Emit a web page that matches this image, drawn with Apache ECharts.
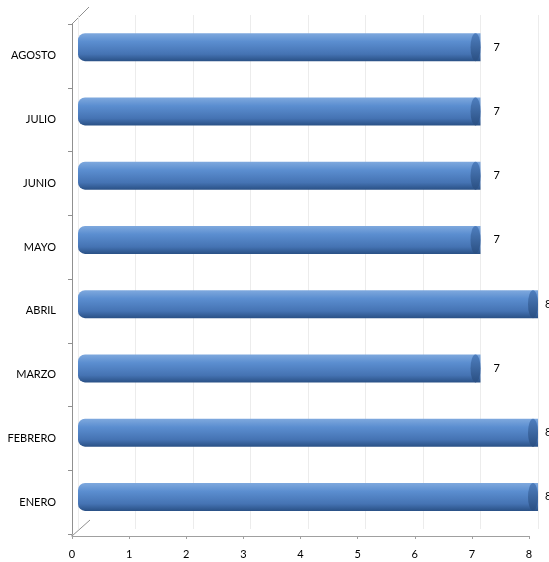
<!DOCTYPE html>
<html>
<head>
<meta charset="utf-8">
<script src="https://cdn.jsdelivr.net/npm/echarts@6/dist/echarts.min.js"></script>
<style>
  html, body { margin: 0; padding: 0; background: #fff; }
  #chart { width: 549px; height: 562px; }
</style>
</head>
<body>
<div id="chart"></div>
<script>
// datos
var meses = ["ENERO", "FEBRERO", "MARZO", "ABRIL", "MAYO", "JUNIO", "JULIO", "AGOSTO"];
var valores = [8, 8, 7, 8, 7, 7, 7, 7];
var ticksX = [0, 1, 2, 3, 4, 5, 6, 7, 8];

var font = "Lato, Liberation Sans, sans-serif";
var myChart = echarts.init(document.getElementById("chart"));

var cuerpo = new echarts.graphic.LinearGradient(0, 0, 0, 1, [
  { offset: 0, color: "#7fa9de" },
  { offset: 0.3, color: "#5b8ed0" },
  { offset: 0.75, color: "#4573b3" },
  { offset: 1, color: "#2a5186" }
]);
var tapa = new echarts.graphic.LinearGradient(0, 0, 0, 1, [
  { offset: 0, color: "#4f7fbf" },
  { offset: 1, color: "#2a4f82" }
]);

// las barras que llegan al borde dejan su etiqueta medio cortada
var datosBarras = valores.map(function (v) {
  return v >= 8 ? { value: v, label: { distance: 7 } } : v;
});

var option = {
  animation: false,
  grid: [
    // plano frontal: ejes y etiquetas
    { left: 72, right: 20, top: 24, bottom: 28 },
    // plano de las barras (desplazado por la profundidad 3D)
    { left: 78, right: 11, top: 15, bottom: 33 }
  ],
  xAxis: [
    {
      gridIndex: 0,
      type: "value",
      min: 0,
      max: 8,
      interval: 1,
      offset: 2,
      axisLine: { show: true, lineStyle: { color: "#a0a0a0" } },
      axisTick: { show: true, length: 3, lineStyle: { color: "#a0a0a0" } },
      splitLine: { show: false },
      axisLabel: {
        color: "#000",
        fontSize: 11,
        fontFamily: font,
        margin: 13,
        formatter: function (v) { return ticksX.indexOf(v) >= 0 ? String(v) : ""; }
      }
    },
    {
      gridIndex: 1,
      type: "value",
      min: 0,
      max: 8,
      interval: 1,
      axisLine: { show: false },
      axisTick: { show: false },
      axisLabel: { show: false },
      splitLine: { show: true, lineStyle: { color: "#ececec", width: 1 } }
    }
  ],
  yAxis: [
    {
      gridIndex: 0,
      type: "category",
      data: meses,
      axisLine: { show: true, lineStyle: { color: "#909090" } },
      axisTick: { show: true, length: 4, lineStyle: { color: "#909090" } },
      axisLabel: { color: "#000", fontSize: 11, fontFamily: font, margin: 16 }
    },
    {
      gridIndex: 1,
      type: "category",
      data: meses,
      axisLine: { show: false },
      axisTick: { show: false },
      axisLabel: { show: false }
    }
  ],
  graphic: [
    {
      type: "polyline",
      shape: { points: [[72, 534], [72, 536], [90, 520]] },
      style: { stroke: "#909090", fill: null, lineWidth: 1 }
    },
    {
      type: "line",
      shape: { x1: 72, y1: 24, x2: 89, y2: 7 },
      style: { stroke: "#909090", lineWidth: 1 }
    }
  ],
  series: [
    {
      type: "bar",
      xAxisIndex: 1,
      yAxisIndex: 1,
      data: datosBarras,
      barWidth: 28,
      itemStyle: { color: cuerpo, borderRadius: [7, 0, 0, 7] },
      label: {
        show: true,
        position: "right",
        distance: 13,
        color: "#000",
        fontSize: 11,
        fontFamily: font
      },
      z: 2
    },
    {
      // tapa derecha del cilindro
      type: "pictorialBar",
      xAxisIndex: 1,
      yAxisIndex: 1,
      data: valores,
      symbol: "circle",
      symbolSize: [10, 28],
      symbolPosition: "end",
      symbolOffset: [0, 0],
      itemStyle: { color: tapa },
      z: 3
    }
  ]
};
myChart.setOption(option);
</script>
</body>
</html>
